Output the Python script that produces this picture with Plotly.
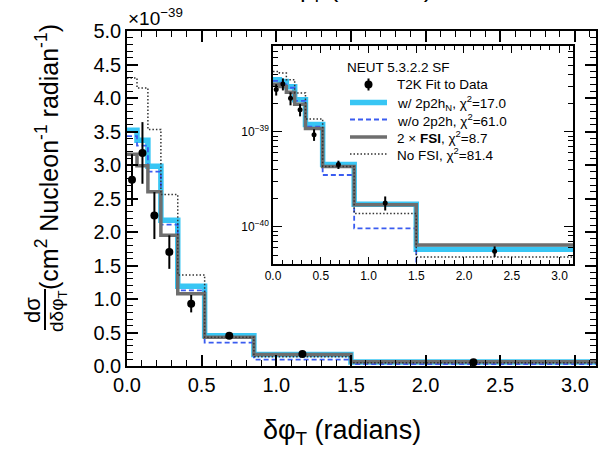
import numpy as np
import plotly.graph_objects as go

# ---- data (units of 1e-39 cm^2 / nucleon / radian) ----
bin_edges = [0.0, 0.067, 0.14, 0.227, 0.34, 0.52, 0.85, 1.5, float(np.pi)]
data_vals = [2.78, 3.18, 2.245, 1.70, 0.93, 0.45, 0.178, 0.055]
data_errs = [0.38, 0.46, 0.35, 0.25, 0.13, 0.045, 0.03, 0.007]
w_2p2h = [3.52, 3.37, 2.98, 2.175, 1.19, 0.45, 0.172, 0.058]
wo_2p2h = [3.43, 3.29, 2.90, 2.11, 1.13, 0.35, 0.096, 0.03]
fsi_x2 = [3.16, 2.99, 2.60, 1.95, 1.08, 0.43, 0.17, 0.064]
no_fsi = [4.30, 4.15, 3.53, 2.56, 1.36, 0.43, 0.138, 0.048]

legend_title = "NEUT 5.3.2.2 SF"
names = ["T2K Fit to Data",
         "w/ 2p2h<sub>N</sub>, χ<sup>2</sup>=17.0",
         "w/o 2p2h, χ<sup>2</sup>=61.0",
         "2 × <b>FSI</b>, χ<sup>2</sup>=8.7",
         "No FSI, χ<sup>2</sup>=81.4"]
x_ticks = [0.0, 0.5, 1.0, 1.5, 2.0, 2.5, 3.0]
y_ticks = [0.0, 0.5, 1.0, 1.5, 2.0, 2.5, 3.0, 3.5, 4.0, 4.5, 5.0]

SCALE = 1e-39
FONT = "Liberation Sans, Arial, sans-serif"

edges = np.array(bin_edges)
centers = 0.5 * (edges[:-1] + edges[1:])

styles = [
    dict(vals=w_2p2h, color="#38c6f4", width=5.5, dash="solid"),
    dict(vals=wo_2p2h, color="#3a5cf0", width=1.8, dash="5px,3px"),
    dict(vals=fsi_x2, color="#6e6e6e", width=3.5, dash="solid"),
    dict(vals=no_fsi, color="#333333", width=1.5, dash="1.5px,2px"),
]

fig = go.Figure()

def step(vals):
    return list(vals) + [vals[-1]]

for i, st in enumerate(styles):
    for ax, sc in (("", 1.0), ("2", SCALE)):
        fig.add_trace(go.Scatter(
            x=bin_edges, y=[v * sc for v in step(st["vals"])],
            mode="lines", line=dict(shape="hv", color=st["color"], width=st["width"], dash=st["dash"]),
            name=names[i + 1], showlegend=False,
            xaxis="x" + ax, yaxis="y" + ax, hoverinfo="skip"))

for ax, sc, ms in (("", 1.0, 8), ("2", SCALE, 5)):
    fig.add_trace(go.Scatter(
        x=centers, y=[v * sc for v in data_vals], mode="markers",
        marker=dict(color="black", size=ms, symbol="circle"),
        error_y=dict(type="data", array=[e * sc for e in data_errs], color="black", thickness=2, width=0),
        name=names[0], showlegend=False,
        xaxis="x" + ax, yaxis="y" + ax))

axis_common = dict(showline=True, linecolor="black", linewidth=1.5, mirror="ticks",
                   ticks="inside", tickcolor="black", showgrid=False, zeroline=False)

fig.update_layout(
    width=615, height=455,
    margin=dict(l=127, r=19, t=31, b=89),
    paper_bgcolor="white", plot_bgcolor="white",
    font=dict(family=FONT, color="black"),
    showlegend=False,
    xaxis=dict(range=[0, np.pi], tickvals=x_ticks, ticktext=[f"{v:.1f}" for v in x_ticks],
               ticklen=11, tickwidth=1.5, tickfont=dict(size=20),
               minor=dict(dtick=0.1, tick0=0, ticks="inside", ticklen=6, tickcolor="black", tickwidth=1.2),
               **axis_common),
    yaxis=dict(range=[0, 5], tickvals=y_ticks, ticktext=[f"{v:.1f}" for v in y_ticks],
               ticklen=11, tickwidth=1.5, tickfont=dict(size=20),
               minor=dict(dtick=0.1, tick0=0, ticks="inside", ticklen=6, tickcolor="black", tickwidth=1.2),
               **axis_common),
    xaxis2=dict(domain=[0.3113, 0.951], anchor="y2", range=[0, np.pi],
                tickvals=x_ticks, ticktext=[f"{v:.1f}" for v in x_ticks],
                ticklen=7, tickwidth=1.2, tickfont=dict(size=12),
                minor=dict(dtick=0.1, tick0=0, ticks="inside", ticklen=4, tickcolor="black"),
                **axis_common),
    yaxis2=dict(domain=[0.3045, 0.9552], anchor="x2", type="log", range=[-40.393, -38.098],
                tickvals=[1e-40, 1e-39], ticktext=["10<sup>−40</sup>", "10<sup>−39</sup>"],
                ticklen=9, tickwidth=1.2, tickfont=dict(size=12),
                minor=dict(tickvals=[k * 1e-41 for k in range(4, 10)] + [k * 1e-40 for k in range(2, 10)]
                           + [k * 1e-39 for k in range(2, 9)],
                           ticks="inside", ticklen=5, tickcolor="black"),
                **axis_common),
)

def px_x(p):
    return (p - 127) / 469.0

def px_y(p):
    return (366 - p) / 335.0

ann = [
    dict(text="×10<sup>−39</sup>", x=px_x(126), y=px_y(31), xanchor="left", yanchor="bottom", font=dict(size=19)),
    dict(text="δφ<sub>T</sub> (radians)", x=px_x(342), y=px_y(432), xanchor="center", yanchor="middle", font=dict(size=27)),
    dict(text="δφ<sub>T</sub> (radians)", x=px_x(356), y=px_y(-11), xanchor="center", yanchor="middle", font=dict(size=26)),
    dict(text="dσ", x=px_x(32), y=px_y(310), xanchor="center", yanchor="middle", textangle=-90, font=dict(size=22)),
    dict(text="dδφ<sub>T</sub>", x=px_x(58), y=px_y(311), xanchor="center", yanchor="middle", textangle=-90, font=dict(size=19)),
    dict(text="(cm<sup>2</sup> Nucleon<sup>-1</sup> radian<sup>-1</sup>)", x=px_x(47), y=px_y(157),
         xanchor="center", yanchor="middle", textangle=-90, font=dict(size=25)),
]

# ---- legend (drawn manually inside the inset) ----
LEG_KEY_X0, LEG_KEY_X1, LEG_TEXT_X = 350, 387, 395
leg_rows_y = [84.5, 102.5, 119.5, 137, 154]
ann.append(dict(text=legend_title, x=px_x(345), y=px_y(67), xanchor="left", yanchor="middle", font=dict(size=13.5)))
for name, yy in zip(names, leg_rows_y):
    ann.append(dict(text=name, x=px_x(LEG_TEXT_X), y=px_y(yy), xanchor="left", yanchor="middle",
                    font=dict(size=13.5)))
for a in ann:
    a.update(xref="paper", yref="paper", showarrow=False)
fig.update_layout(annotations=ann)

shapes = [dict(type="line", x0=px_x(45), x1=px_x(45), y0=px_y(289), y1=px_y(330),
               line=dict(color="black", width=2))]
# marker key
cx, cy, r = (LEG_KEY_X0 + LEG_KEY_X1) / 2, leg_rows_y[0], 4
shapes.append(dict(type="line", x0=px_x(cx), x1=px_x(cx), y0=px_y(cy - 6), y1=px_y(cy + 6),
                   line=dict(color="black", width=2)))
shapes.append(dict(type="circle", x0=px_x(cx - r), x1=px_x(cx + r), y0=px_y(cy - r), y1=px_y(cy + r),
                   fillcolor="black", line=dict(color="black", width=0)))
for st, yy in zip(styles, leg_rows_y[1:]):
    shapes.append(dict(type="line", x0=px_x(LEG_KEY_X0), x1=px_x(LEG_KEY_X1), y0=px_y(yy), y1=px_y(yy),
                       line=dict(color=st["color"], width=st["width"], dash=st["dash"])))
for s in shapes:
    s.update(xref="paper", yref="paper")
fig.update_layout(shapes=shapes)

fig.write_html("out.html")
